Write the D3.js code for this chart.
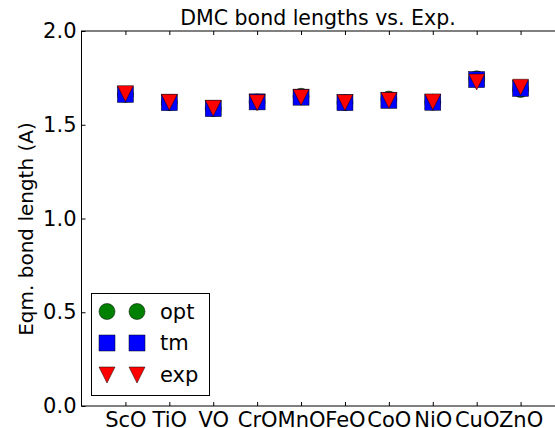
<!DOCTYPE html>
<html lang="en">
<head>
    <meta charset="UTF-8">
    <title>DMC bond lengths vs. Exp.</title>
    <script src="https://d3js.org/d3.v7.min.js"></script>
    <style>
        body { margin: 0; background: #fff; }
        svg text { font-family: "DejaVu Sans", sans-serif; fill: #000; }
        .axis path, .axis line { stroke: #000; }
    </style>
</head>
<body>
<svg id="chart"></svg>
<script>
    // data
    const molecules = ["ScO", "TiO", "VO", "CrO", "MnO", "FeO", "CoO", "NiO", "CuO", "ZnO"];
    const optValues = [1.662, 1.618, 1.586, 1.622, 1.652, 1.618, 1.637, 1.620, 1.745, 1.688];
    const tmValues  = [1.662, 1.618, 1.586, 1.622, 1.647, 1.618, 1.630, 1.620, 1.741, 1.694];
    const expValues = [1.666, 1.620, 1.588, 1.618, 1.646, 1.618, 1.630, 1.622, 1.728, 1.700];
    const yTicks = [0.0, 0.5, 1.0, 1.5, 2.0];

    const width = 555, height = 428;
    const mLeft = 81.5, mRight = 564.5, mTop = 31, mBottom = 406;
    const fs = 21;
    const ms = 16; // marker size

    const svg = d3.select("#chart")
        .attr("width", width)
        .attr("height", height);

    const x = d3.scaleLinear().domain([0, 11]).range([mLeft, mRight]);
    const y = d3.scaleLinear().domain([0, 2]).range([mBottom, mTop]);

    // frame
    svg.append("rect")
        .attr("x", mLeft).attr("y", mTop)
        .attr("width", mRight - mLeft).attr("height", mBottom - mTop)
        .attr("fill", "none").attr("stroke", "#000").attr("stroke-width", 1);

    const xIdx = d3.range(1, molecules.length + 1);

    // bottom axis with labels
    const gx = svg.append("g").attr("class", "axis")
        .attr("transform", `translate(0,${mBottom})`)
        .call(d3.axisBottom(x).tickValues(xIdx)
            .tickFormat(d => molecules[d - 1])
            .tickSizeInner(-4).tickSizeOuter(0).tickPadding(6));
    gx.select(".domain").remove();
    gx.selectAll("text").style("font-size", fs + "px");

    // top axis ticks
    const gxt = svg.append("g").attr("class", "axis")
        .attr("transform", `translate(0,${mTop})`)
        .call(d3.axisTop(x).tickValues(xIdx).tickFormat("")
            .tickSizeInner(-4).tickSizeOuter(0));
    gxt.select(".domain").remove();

    // left axis
    const gy = svg.append("g").attr("class", "axis")
        .attr("transform", `translate(${mLeft},0)`)
        .call(d3.axisLeft(y).tickValues(yTicks)
            .tickFormat(d3.format(".1f"))
            .tickSizeInner(-4).tickSizeOuter(0).tickPadding(5));
    gy.select(".domain").remove();
    gy.selectAll("text").style("font-size", fs + "px");

    // title and y label
    svg.append("text")
        .attr("x", 318).attr("y", 25)
        .attr("text-anchor", "middle")
        .style("font-size", "20.5px")
        .text("DMC bond lengths vs. Exp.");

    svg.append("text")
        .attr("transform", `translate(33,229) rotate(-90)`)
        .attr("text-anchor", "middle")
        .style("font-size", "20px")
        .text("Eqm. bond length (A)");

    // marker shapes
    const circle = d3.symbol().type(d3.symbolCircle).size(Math.PI * (ms / 2) * (ms / 2));
    const triDown = `M0,${ms / 2}L${-ms / 2},${-ms / 2}L${ms / 2},${-ms / 2}Z`;

    function drawCircle(g, cx, cy) {
        g.append("path").attr("d", circle())
            .attr("transform", `translate(${cx},${cy})`)
            .attr("fill", "#008000").attr("stroke", "#000").attr("stroke-width", 0.5);
    }
    function drawSquare(g, cx, cy) {
        g.append("rect")
            .attr("x", cx - ms / 2).attr("y", cy - ms / 2)
            .attr("width", ms).attr("height", ms)
            .attr("fill", "#0000ff").attr("stroke", "#000").attr("stroke-width", 0.5);
    }
    function drawTri(g, cx, cy) {
        g.append("path").attr("d", triDown)
            .attr("transform", `translate(${cx},${cy})`)
            .attr("fill", "#ff0000").attr("stroke", "#000").attr("stroke-width", 0.5);
    }

    const marks = svg.append("g");
    optValues.forEach((v, i) => drawCircle(marks, x(i + 1), y(v)));
    tmValues.forEach((v, i) => drawSquare(marks, x(i + 1), y(v)));
    expValues.forEach((v, i) => drawTri(marks, x(i + 1), y(v)));

    // legend
    const lg = svg.append("g");
    lg.append("rect")
        .attr("x", 91.5).attr("y", 293.5)
        .attr("width", 118).attr("height", 102)
        .attr("fill", "#fff").attr("stroke", "#000").attr("stroke-width", 1);
    const rows = [
        { name: "opt", draw: drawCircle, cy: 311.5 },
        { name: "tm", draw: drawSquare, cy: 343 },
        { name: "exp", draw: drawTri, cy: 375 }
    ];
    rows.forEach(r => {
        r.draw(lg, 107, r.cy);
        r.draw(lg, 137, r.cy);
        lg.append("text")
            .attr("x", 160).attr("y", r.cy + 7)
            .style("font-size", fs + "px")
            .text(r.name);
    });
</script>
</body>
</html>
